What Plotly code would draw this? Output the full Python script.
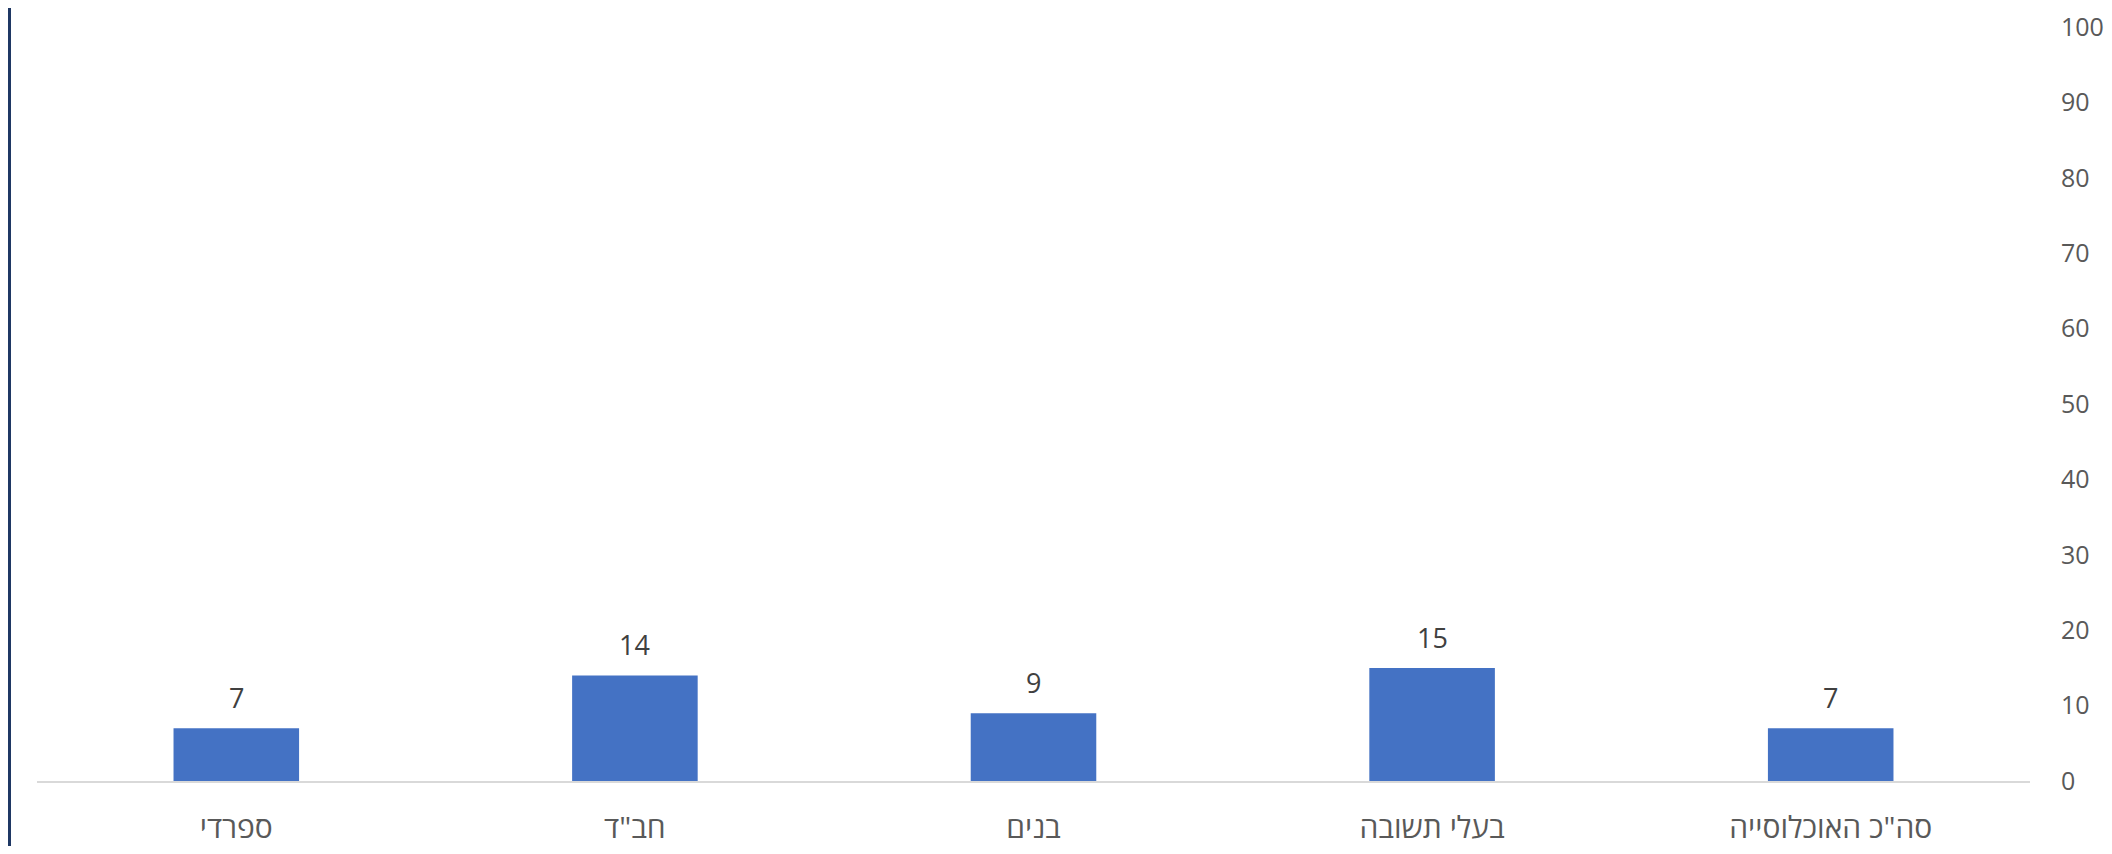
import plotly.graph_objects as go

categories = ['סה"כ האוכלוסייה', "בעלי תשובה", "בנים", 'חב"ד', "ספרדי"]
values = [7, 15, 9, 14, 7]
y_ticks = [0, 10, 20, 30, 40, 50, 60, 70, 80, 90, 100]

FONT = "Open Sans, Liberation Sans, DejaVu Sans, sans-serif"

fig = go.Figure()
fig.add_trace(go.Bar(
    x=categories,
    y=values,
    marker=dict(color="#4472C4", line=dict(width=0)),
    width=0.315,
    hoverinfo="x+y",
))

for c, v in zip(categories, values):
    fig.add_annotation(
        x=c, y=v, text=str(v), showarrow=False,
        yanchor="bottom", yshift=10,
        font=dict(family=FONT, size=27, color="#404040"),
    )

# page body has an 8px margin, so the figure is sized/offset to fit the window exactly
fig.update_layout(
    width=2096, height=838,
    margin=dict(l=29, r=74, t=19, b=65),
    paper_bgcolor="white",
    plot_bgcolor="white",
    showlegend=False,
    xaxis=dict(
        autorange="reversed",
        automargin=False,
        showgrid=False,
        showline=True, linecolor="#D9D9D9", linewidth=2,
        ticks="outside", ticklen=19, tickcolor="rgba(0,0,0,0)",
        tickfont=dict(family=FONT, size=30, color="#595959"),
        zeroline=False,
    ),
    yaxis=dict(
        side="right",
        automargin=False,
        range=[0, 100],
        tickvals=y_ticks,
        showgrid=False,
        zeroline=False,
        showline=False,
        ticks="outside", ticklen=25, tickcolor="rgba(0,0,0,0)",
        tickfont=dict(family=FONT, size=25, color="#595959"),
    ),
    shapes=[dict(
        type="line", xref="paper", yref="paper",
        xsizemode="pixel", xanchor=0, x0=-27.5, x1=-27.5,
        ysizemode="pixel", yanchor=0, y0=-200, y1=1000,
        line=dict(color="#1F3864", width=3),
    )],
)

fig.write_html("out.html")
